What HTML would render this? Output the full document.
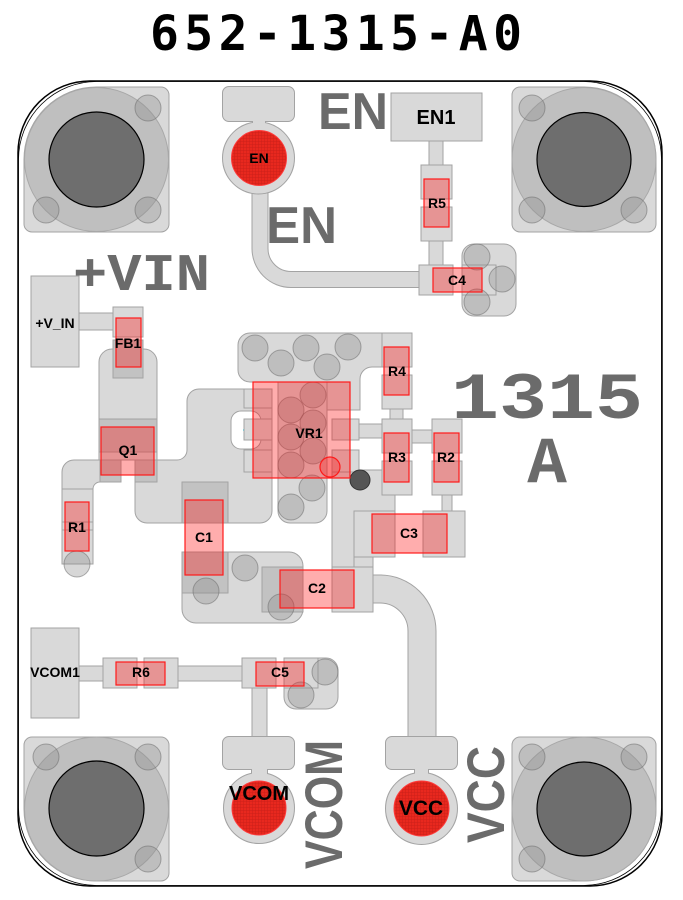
<!DOCTYPE html>
<html><head><meta charset="utf-8"><style>html,body{margin:0;padding:0;background:#fff}svg{display:block}</style></head>
<body>
<svg xmlns="http://www.w3.org/2000/svg" width="683" height="900" viewBox="0 0 683 900">
<defs>
<pattern id="hatch" width="3" height="3" patternUnits="userSpaceOnUse">
<rect width="3" height="3" fill="#e8281e"/>
<path d="M0 0.5H3M0.5 0V3" stroke="#c01c16" stroke-width="0.5" opacity="0.7"/>
</pattern>
<style>
.p{fill:#d9d9d9;stroke:#a3a3a3;stroke-width:1}
.d{fill:#c2c2c2;stroke:#a3a3a3;stroke-width:1}
.c{fill:rgba(140,140,140,0.35);stroke:rgba(110,110,110,0.55);stroke-width:1}
.r{fill:rgba(255,20,20,0.35);stroke:#ff1a1a;stroke-width:1.2}
.l{font-family:"Liberation Sans",sans-serif;font-weight:bold;font-size:14px;fill:#000;text-anchor:middle}
.s{fill:#6b6b6b;font-weight:bold}
.ss{font-family:"Liberation Sans",sans-serif}
.sm{font-family:"Liberation Mono",monospace}
.big{fill:#bfbfbf;stroke:#a8a8a8;stroke-width:1}
.hole{fill:#6e6e6e;stroke:#000;stroke-width:1.2}
</style>
</defs>

<!-- title -->
<text x="150" y="50" style="font-family:'DejaVu Sans Mono',monospace;font-weight:bold;font-size:48px" textLength="372" lengthAdjust="spacing">652-1315-A0</text>

<!-- board -->
<rect x="18" y="81" width="644" height="805" rx="72" fill="#fff" stroke="#000" stroke-width="1.5"/>
<rect x="18.5" y="81.5" width="643" height="804" rx="78" fill="none" stroke="#000" stroke-width="0.8"/>

<!-- mounting holes -->
<path class="p" d="M96.5,87 H161 A8 8 0 0 1 169,95 V224 A8 8 0 0 1 161,232 H32 A8 8 0 0 1 24,224 V159.5 A72.5 72.5 0 0 1 96.5,87 Z"/>
<circle class="big" cx="96.5" cy="159.5" r="72"/>
<circle class="c" cx="148" cy="108" r="13"/><circle class="c" cx="46" cy="210" r="13"/><circle class="c" cx="148" cy="210" r="13"/>
<circle class="hole" cx="96.5" cy="159.5" r="47.5"/>

<path class="p" d="M520,87 H584 A72 72 0 0 1 656,159.5 V224 A8 8 0 0 1 648,232 H520 A8 8 0 0 1 512,224 V95 A8 8 0 0 1 520,87 Z"/>
<circle class="big" cx="584" cy="159.5" r="72"/>
<circle class="c" cx="532" cy="108" r="13"/><circle class="c" cx="532" cy="210" r="13"/><circle class="c" cx="634" cy="210" r="13"/>
<circle class="hole" cx="584" cy="159.5" r="47"/>

<path class="p" d="M32,737 H161 A8 8 0 0 1 169,745 V873 A8 8 0 0 1 161,881 H96.5 A72 72 0 0 1 24,809 V745 A8 8 0 0 1 32,737 Z"/>
<circle class="big" cx="96.5" cy="809" r="72"/>
<circle class="c" cx="46" cy="757" r="13"/><circle class="c" cx="148" cy="757" r="13"/><circle class="c" cx="148" cy="859" r="13"/>
<circle class="hole" cx="96.5" cy="808.5" r="47.5"/>

<path class="p" d="M520,737 H648 A8 8 0 0 1 656,745 V809 A72 72 0 0 1 584,881 H520 A8 8 0 0 1 512,873 V745 A8 8 0 0 1 520,737 Z"/>
<circle class="big" cx="584" cy="809" r="72"/>
<circle class="c" cx="532" cy="757" r="13"/><circle class="c" cx="634" cy="757" r="13"/><circle class="c" cx="532" cy="859" r="13"/>
<circle class="hole" cx="584" cy="809" r="47"/>

<!-- traces -->
<path d="M260,165 V248.5 A31 31 0 0 0 291,279.5 H425" fill="none" stroke="#a3a3a3" stroke-width="17"/>
<path d="M260,165 V248.5 A31 31 0 0 0 291,279.5 H425" fill="none" stroke="#d9d9d9" stroke-width="15"/>
<path d="M365,589 H380 A42 42 0 0 1 422,631 V745" fill="none" stroke="#a3a3a3" stroke-width="29"/>
<path d="M365,589 H380 A42 42 0 0 1 422,631 V745" fill="none" stroke="#d9d9d9" stroke-width="27"/>
<rect class="p" x="429" y="141" width="14" height="24"/>
<rect class="p" x="429" y="241" width="14" height="24"/>
<rect class="p" x="79" y="313" width="34" height="17"/>
<rect class="p" x="79" y="666" width="24" height="15"/>
<rect class="p" x="178" y="666" width="64" height="15"/>
<rect class="p" x="252" y="688" width="15" height="52"/>
<rect class="p" x="390" y="409" width="13" height="10"/>
<rect class="p" x="412" y="430" width="20" height="13"/>
<rect class="p" x="442" y="495" width="10" height="17"/>
<rect class="p" x="359" y="424" width="23" height="14"/>
<rect class="p" x="354" y="557" width="19" height="10"/>

<!-- test points -->
<g stroke="#a3a3a3" stroke-width="2" fill="none">
<rect x="223" y="87" width="71" height="34" rx="6"/><rect x="253" y="119" width="12" height="8"/><circle cx="258.5" cy="158" r="35.5"/>
<rect x="223" y="737" width="71" height="32" rx="6"/><rect x="252" y="767" width="15" height="8"/><circle cx="259" cy="808" r="35"/>
<rect x="386" y="737" width="71" height="32" rx="6"/><rect x="415" y="767" width="13" height="8"/><circle cx="421.5" cy="808.5" r="35.5"/>
</g>
<g fill="#d9d9d9">
<rect x="223" y="87" width="71" height="34" rx="6"/><rect x="253" y="119" width="12" height="8"/><circle cx="258.5" cy="158" r="35.5"/>
<rect x="223" y="737" width="71" height="32" rx="6"/><rect x="252" y="767" width="15" height="8"/><circle cx="259" cy="808" r="35"/>
<rect x="386" y="737" width="71" height="32" rx="6"/><rect x="415" y="767" width="13" height="8"/><circle cx="421.5" cy="808.5" r="35.5"/>
</g>
<circle cx="259" cy="158" r="27.5" fill="url(#hatch)" stroke="#ff3a3a" stroke-width="1"/>
<circle cx="259" cy="808" r="27" fill="url(#hatch)" stroke="#ff3a3a" stroke-width="1"/>
<circle cx="421.5" cy="808.5" r="27.5" fill="url(#hatch)" stroke="#ff3a3a" stroke-width="1"/>

<!-- component shapes -->
<path class="p" d="M250,333 H382 V367 H372 A12 12 0 0 0 360,379 V410 H327 V382 H250 A12 12 0 0 1 238,370 V345 A12 12 0 0 1 250,333 Z"/>
<path class="p" d="M278,382 H327 V511 A12 12 0 0 1 315,523 H290 A12 12 0 0 1 278,511 Z"/>
<path class="p" d="M199,389 H272 V511 A12 12 0 0 1 260,523 H147 A12 12 0 0 1 135,511 V460 H177 A10 10 0 0 0 187,450 V401 A12 12 0 0 1 199,389 Z"/>
<rect x="231" y="411" width="30" height="38" rx="10" fill="#fff" stroke="#a3a3a3"/>
<circle cx="244" cy="430" r="1" fill="#00e5ff"/>
<path class="p" d="M99,460 V362 A13 13 0 0 1 112,349 H144 A13 13 0 0 1 157,362 V460 Z"/>
<rect class="d" x="99" y="419" width="58" height="33"/>
<rect class="d" x="100" y="460" width="21" height="22"/>
<rect class="d" x="135" y="460" width="22" height="22"/>
<path class="p" d="M74,460 H100 V482 A7 7 0 0 0 93,489 V564 H62 V472 A12 12 0 0 1 74,460 Z"/>
<rect class="p" x="182" y="552" width="121" height="71" rx="14"/>
<rect class="p" x="462" y="244" width="54" height="72" rx="12"/>
<rect class="p" x="284" y="658" width="54" height="51" rx="12"/>
<path class="p" d="M332,470 H395 V511 H354 V567 H332 Z"/>

<!-- pads -->
<rect class="p" x="391" y="93" width="91" height="48"/>
<rect class="p" x="421" y="165" width="31" height="34"/>
<rect class="p" x="421" y="207" width="31" height="34"/>
<rect class="p" x="419" y="265" width="34" height="30"/>
<rect class="p" x="462" y="265" width="34" height="30"/>
<rect class="p" x="31" y="276" width="48" height="91"/>
<rect class="p" x="113" y="307" width="30" height="30"/>
<rect class="d" x="113" y="340" width="30" height="38"/>
<rect class="p" x="62" y="489" width="31" height="33"/>
<rect class="p" x="62" y="530" width="31" height="34"/>
<rect class="p" x="244" y="389" width="28" height="19"/>
<rect class="p" x="244" y="419" width="28" height="21"/>
<rect class="p" x="244" y="450" width="28" height="22"/>
<rect class="p" x="332" y="419" width="27" height="21"/>
<rect class="p" x="332" y="450" width="27" height="22"/>
<rect class="p" x="382" y="333" width="30" height="34"/>
<rect class="p" x="382" y="375" width="30" height="34"/>
<rect class="p" x="382" y="419" width="30" height="34"/>
<rect class="p" x="382" y="461" width="30" height="34"/>
<rect class="p" x="432" y="419" width="30" height="34"/>
<rect class="p" x="432" y="461" width="30" height="34"/>
<rect class="p" x="354" y="511" width="41" height="46"/>
<rect class="p" x="423" y="511" width="42" height="46"/>
<rect class="d" x="182" y="482" width="46" height="41"/>
<rect class="d" x="182" y="552" width="46" height="41"/>
<rect class="d" x="262" y="567" width="41" height="45"/>
<rect class="p" x="332" y="567" width="41" height="45"/>
<rect class="p" x="31" y="628" width="48" height="90"/>
<rect class="p" x="103" y="658" width="34" height="30"/>
<rect class="p" x="144" y="658" width="34" height="30"/>
<rect class="p" x="242" y="658" width="34" height="30"/>
<rect class="p" x="284" y="658" width="34" height="30"/>

<!-- circles -->
<circle class="c" cx="477" cy="257" r="13"/><circle class="c" cx="502" cy="279" r="13"/><circle class="c" cx="477" cy="302" r="13"/>
<circle class="c" cx="255" cy="348" r="13"/><circle class="c" cx="281" cy="363" r="13"/><circle class="c" cx="306" cy="348" r="13"/><circle class="c" cx="327" cy="367" r="13"/><circle class="c" cx="348" cy="347" r="13"/>
<circle class="c" cx="313" cy="395" r="13"/><circle class="c" cx="291" cy="410" r="13"/><circle class="c" cx="313" cy="423" r="13"/><circle class="c" cx="291" cy="437" r="13"/><circle class="c" cx="313" cy="451" r="13"/><circle class="c" cx="291" cy="465" r="13"/><circle class="c" cx="312" cy="488" r="13"/><circle class="c" cx="291" cy="507" r="13"/>
<circle class="c" cx="77" cy="564" r="13"/>
<circle class="c" cx="245" cy="568" r="13"/><circle class="c" cx="206" cy="591" r="13"/><circle class="c" cx="281" cy="607" r="13"/>
<circle class="c" cx="325" cy="672" r="13"/><circle class="c" cx="301" cy="695" r="13"/>
<circle cx="360" cy="480" r="10" fill="#555" stroke="#333"/>

<!-- red courtyard rects -->
<rect class="r" x="424" y="179" width="25" height="48"/>
<rect class="r" x="433" y="268" width="49" height="24"/>
<rect class="r" x="116" y="318" width="25" height="49"/>
<rect class="r" x="101" y="427" width="53" height="48"/>
<rect class="r" x="65" y="502" width="24" height="49"/>
<rect class="r" x="185" y="500" width="38" height="75"/>
<rect class="r" x="253" y="382" width="97" height="96"/>
<circle cx="330" cy="467" r="10" fill="rgba(255,20,20,0.3)" stroke="#ff1a1a" stroke-width="1.2"/>
<rect class="r" x="384" y="347" width="25" height="48"/>
<rect class="r" x="384" y="433" width="25" height="49"/>
<rect class="r" x="434" y="433" width="25" height="49"/>
<rect class="r" x="372" y="514" width="75" height="39"/>
<rect class="r" x="280" y="570" width="74" height="38"/>
<rect class="r" x="116" y="662" width="49" height="23"/>
<rect class="r" x="256" y="662" width="48" height="24"/>

<!-- labels -->
<text class="l" x="259" y="163">EN</text>
<text class="l" x="436" y="124" style="font-size:20px">EN1</text>
<text class="l" x="437" y="208">R5</text>
<text class="l" x="457" y="285">C4</text>
<text class="l" x="55" y="328">+V_IN</text>
<text class="l" x="128" y="348">FB1</text>
<text class="l" x="397" y="376">R4</text>
<text class="l" x="309" y="438">VR1</text>
<text class="l" x="397" y="462">R3</text>
<text class="l" x="446" y="462">R2</text>
<text class="l" x="128" y="455">Q1</text>
<text class="l" x="77" y="532">R1</text>
<text class="l" x="204" y="542">C1</text>
<text class="l" x="409" y="538">C3</text>
<text class="l" x="317" y="593">C2</text>
<text class="l" x="55" y="677">VCOM1</text>
<text class="l" x="141" y="677">R6</text>
<text class="l" x="280" y="677">C5</text>
<text class="l" x="259" y="800" style="font-size:20px">VCOM</text>
<text class="l" x="421" y="815" style="font-size:21px">VCC</text>

<!-- silkscreen -->
<text class="s ss" x="318" y="129" font-size="52" textLength="70" lengthAdjust="spacingAndGlyphs">EN</text>
<text class="s ss" x="266" y="243" font-size="52" textLength="71" lengthAdjust="spacingAndGlyphs">EN</text>
<text class="s sm" x="73" y="290" font-size="53" textLength="137" lengthAdjust="spacingAndGlyphs">+VIN</text>
<text class="s sm" x="451" y="418" font-size="66" textLength="192" lengthAdjust="spacingAndGlyphs">1315</text>
<text class="s sm" x="547" y="482" font-size="66" text-anchor="middle">A</text>
<text class="s ss" transform="translate(342,869) rotate(-90)" x="0" y="0" font-size="53" textLength="129" lengthAdjust="spacingAndGlyphs">VCOM</text>
<text class="s ss" transform="translate(504,843) rotate(-90)" x="0" y="0" font-size="53" textLength="97" lengthAdjust="spacingAndGlyphs">VCC</text>
</svg>
</body></html>
